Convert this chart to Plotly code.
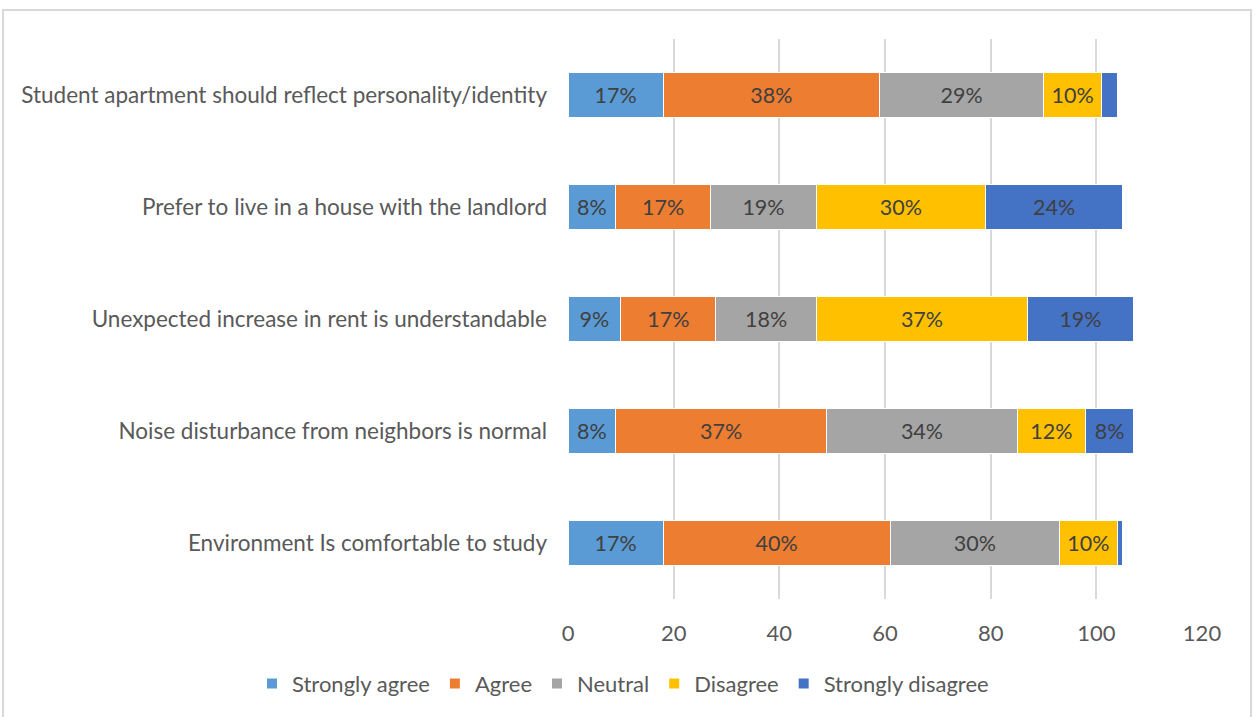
import plotly.graph_objects as go

categories = [
    "Student apartment should reflect personality/identity",
    "Prefer to live in a house with the landlord",
    "Unexpected increase in rent is understandable",
    "Noise disturbance from neighbors is normal",
    "Environment Is comfortable to study",
]
series_names = ["Strongly agree", "Agree", "Neutral", "Disagree", "Strongly disagree"]
strongly_agree = [18, 9, 10, 9, 18]
agree = [41, 18, 18, 40, 43]
neutral = [31, 20, 19, 36, 32]
disagree = [11, 32, 40, 13, 11]
strongly_disagree = [3, 26, 20, 9, 1]

lbl_strongly_agree = ["17%", "8%", "9%", "8%", "17%"]
lbl_agree = ["38%", "17%", "17%", "37%", "40%"]
lbl_neutral = ["29%", "19%", "18%", "34%", "30%"]
lbl_disagree = ["10%", "30%", "37%", "12%", "10%"]
lbl_strongly_disagree = ["", "24%", "19%", "8%", ""]

colors = ["#5B9BD5", "#ED7D31", "#A5A5A5", "#FFC000", "#4472C4"]
values = [strongly_agree, agree, neutral, disagree, strongly_disagree]
labels = [lbl_strongly_agree, lbl_agree, lbl_neutral, lbl_disagree, lbl_strongly_disagree]

FONT = "Lato, Carlito, Calibri, sans-serif"

fig = go.Figure()
for name, vals, lbls, col in zip(series_names, values, labels, colors):
    fig.add_trace(go.Bar(
        y=categories, x=vals, name=name, orientation="h",
        marker=dict(color=col, line=dict(color="white", width=1)),
        text=lbls, textposition="inside", insidetextanchor="middle",
        textangle=0, constraintext="none",
        textfont=dict(family=FONT, size=21.5, color="#404040"),
        hoverinfo="x+y+name",
    ))

W, H = 1257, 717
L, R, T, B = 568, 55, 39, 116
pw, ph = W - L - R, H - T - B

def px_x(x):
    return (x - L) / pw

def px_y(y):
    return (H - B - y) / ph

fig.update_layout(
    width=W, height=H,
    barmode="stack", bargap=0.595,
    plot_bgcolor="white", paper_bgcolor="white",
    margin=dict(l=L, r=R, t=T, b=B, pad=0),
    font=dict(family=FONT, color="#595959"),
    showlegend=True,
    legend=dict(
        orientation="h", x=px_x(252), xanchor="left",
        y=px_y(686), yanchor="middle",
        font=dict(family=FONT, size=22, color="#595959"),
        traceorder="normal", itemwidth=30, itemsizing="constant",
        bgcolor="rgba(0,0,0,0)",
    ),
    uniformtext=dict(mode=False),
    xaxis=dict(
        range=[0, 120], dtick=20, tick0=0,
        showgrid=True, gridcolor="#D9D9D9", gridwidth=1.5,
        zeroline=False, showline=False, ticks="",
        tickfont=dict(family=FONT, size=22, color="#595959"),
        ticklabelstandoff=19,
    ),
    yaxis=dict(
        autorange="reversed", showgrid=False, showline=False, ticks="",
        tickfont=dict(family=FONT, size=22.5, color="#595959"),
        ticklabelstandoff=20,
    ),
    shapes=[dict(
        type="rect", xref="paper", yref="paper",
        x0=px_x(3), x1=px_x(1251), y0=px_y(722), y1=px_y(10),
        line=dict(color="#D9D9D9", width=2), fillcolor="rgba(0,0,0,0)",
        layer="below",
    )],
)

fig.write_html(
    "out.html",
    config={"displayModeBar": False},
    post_script="document.body.style.margin='0';document.body.style.overflow='hidden';",
)
